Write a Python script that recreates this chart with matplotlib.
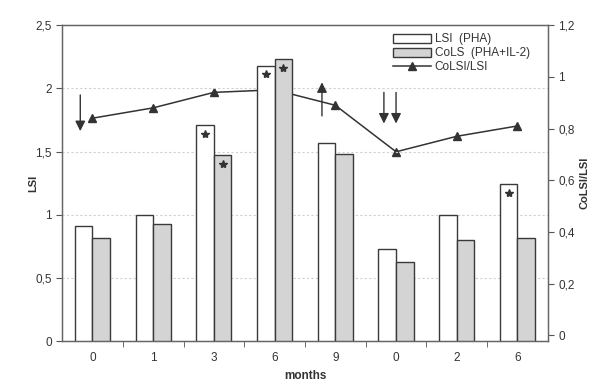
import numpy as np
import matplotlib
matplotlib.use("Agg")
import matplotlib.pyplot as plt
from matplotlib.ticker import FuncFormatter, FixedLocator

plt.rcParams['font.family'] = ['Liberation Sans', 'DejaVu Sans']

months = ["0", "1", "3", "6", "9", "0", "2", "6"]
lsi = [0.91, 1.0, 1.71, 2.18, 1.57, 0.73, 1.0, 1.24]
cols = [0.82, 0.925, 1.47, 2.23, 1.48, 0.63, 0.80, 0.82]
ratio = [0.84, 0.88, 0.94, 0.95, 0.89, 0.71, 0.77, 0.81]
star_lsi = [False, False, True, True, False, False, False, True]
star_cols = [False, False, True, True, False, False, False, False]

# arrows: x position (category units), start, end (LSI units)
arrows = [(-0.2, 1.97, 1.64), (3.78, 1.76, 2.07), (4.8, 1.99, 1.70), (5.0, 1.99, 1.70)]

comma = FuncFormatter(lambda v, p: ("%g" % v).replace(".", ","))

fig = plt.figure(figsize=(5.91, 3.82), dpi=100)
ax = fig.add_axes([0.105, 0.107, 0.822, 0.827])
x = np.arange(len(months))
w = 0.29
edge = "#3a3a3a"
ax.bar(x - w / 2, lsi, w, color="white", edgecolor=edge, linewidth=1.0, label="LSI  (PHA)", zorder=3)
ax.bar(x + w / 2, cols, w, color="#d4d4d4", edgecolor=edge, linewidth=1.0, label="CoLS  (PHA+IL-2)", zorder=3)

for i in range(len(months)):
    if star_lsi[i]:
        ax.plot(x[i] - w / 2, lsi[i] - 0.07, marker="*", color="#333333", ms=6, zorder=4)
    if star_cols[i]:
        ax.plot(x[i] + w / 2, cols[i] - 0.07, marker="*", color="#333333", ms=6, zorder=4)

for ax_x, y0, y1 in arrows:
    ax.annotate("", xy=(ax_x, y1), xytext=(ax_x, y0),
                arrowprops=dict(arrowstyle="-|>,head_width=0.3,head_length=0.6",
                                color="#333333", lw=1.0), zorder=5)

ax.set_xlim(-0.5, len(months) - 0.5)
ax.set_ylim(0, 2.5)
ax.set_yticks([0, 0.5, 1, 1.5, 2, 2.5])
ax.yaxis.set_major_formatter(comma)
ax.set_xticks(x)
ax.set_xticklabels(months)
ax.xaxis.set_minor_locator(FixedLocator(np.arange(0.5, len(months) - 1, 1.0)))
ax.tick_params(axis="x", which="major", length=0, pad=8)
ax.tick_params(axis="x", which="minor", length=4, color="#555555")
ax.tick_params(axis="y", length=4, color="#555555")
ax.tick_params(labelsize=8.5, labelcolor="#333333")
for yv in [0.5, 1, 1.5, 2]:
    ax.axhline(yv, color="#d0d0d0", lw=0.8, ls=(0, (2, 2)), zorder=1)
for s in ax.spines.values():
    s.set_color("#666666")
    s.set_linewidth(1.0)
ax.set_ylabel("LSI", fontsize=8, fontweight="bold", color="#333333")
ax.yaxis.set_label_coords(-0.05, 0.5)
ax.set_xlabel("months", fontsize=8.5, fontweight="bold", color="#333333", labelpad=4)

ax2 = ax.twinx()
ax2.plot(x, ratio, color="#333333", lw=1.1, marker="^", ms=5.5, label="CoLSI/LSI", zorder=4)
ax2.set_ylim(-0.023, 1.2)
ax2.set_yticks([0, 0.2, 0.4, 0.6, 0.8, 1.0, 1.2])
ax2.yaxis.set_major_formatter(comma)
ax2.tick_params(axis="y", length=4, color="#555555", labelsize=8.5, labelcolor="#333333")
for s in ax2.spines.values():
    s.set_color("#666666")
ax2.set_ylabel("CoLSI/LSI", fontsize=8, fontweight="bold", color="#333333")
ax2.yaxis.set_label_coords(1.065, 0.5)

h1, l1 = ax.get_legend_handles_labels()
h2, l2 = ax2.get_legend_handles_labels()
leg = ax.legend(h1 + h2, l1 + l2, loc="upper right", bbox_to_anchor=(0.98, 1.0),
                frameon=False, fontsize=8.5, handlelength=3.2, handleheight=0.8,
                labelspacing=0.15, borderaxespad=0.3, handletextpad=0.3)
for t in leg.get_texts():
    t.set_color("#333333")
ax.set_zorder(ax2.get_zorder() + 1)
ax.patch.set_visible(False)

fig.savefig("out.png", dpi=100)
